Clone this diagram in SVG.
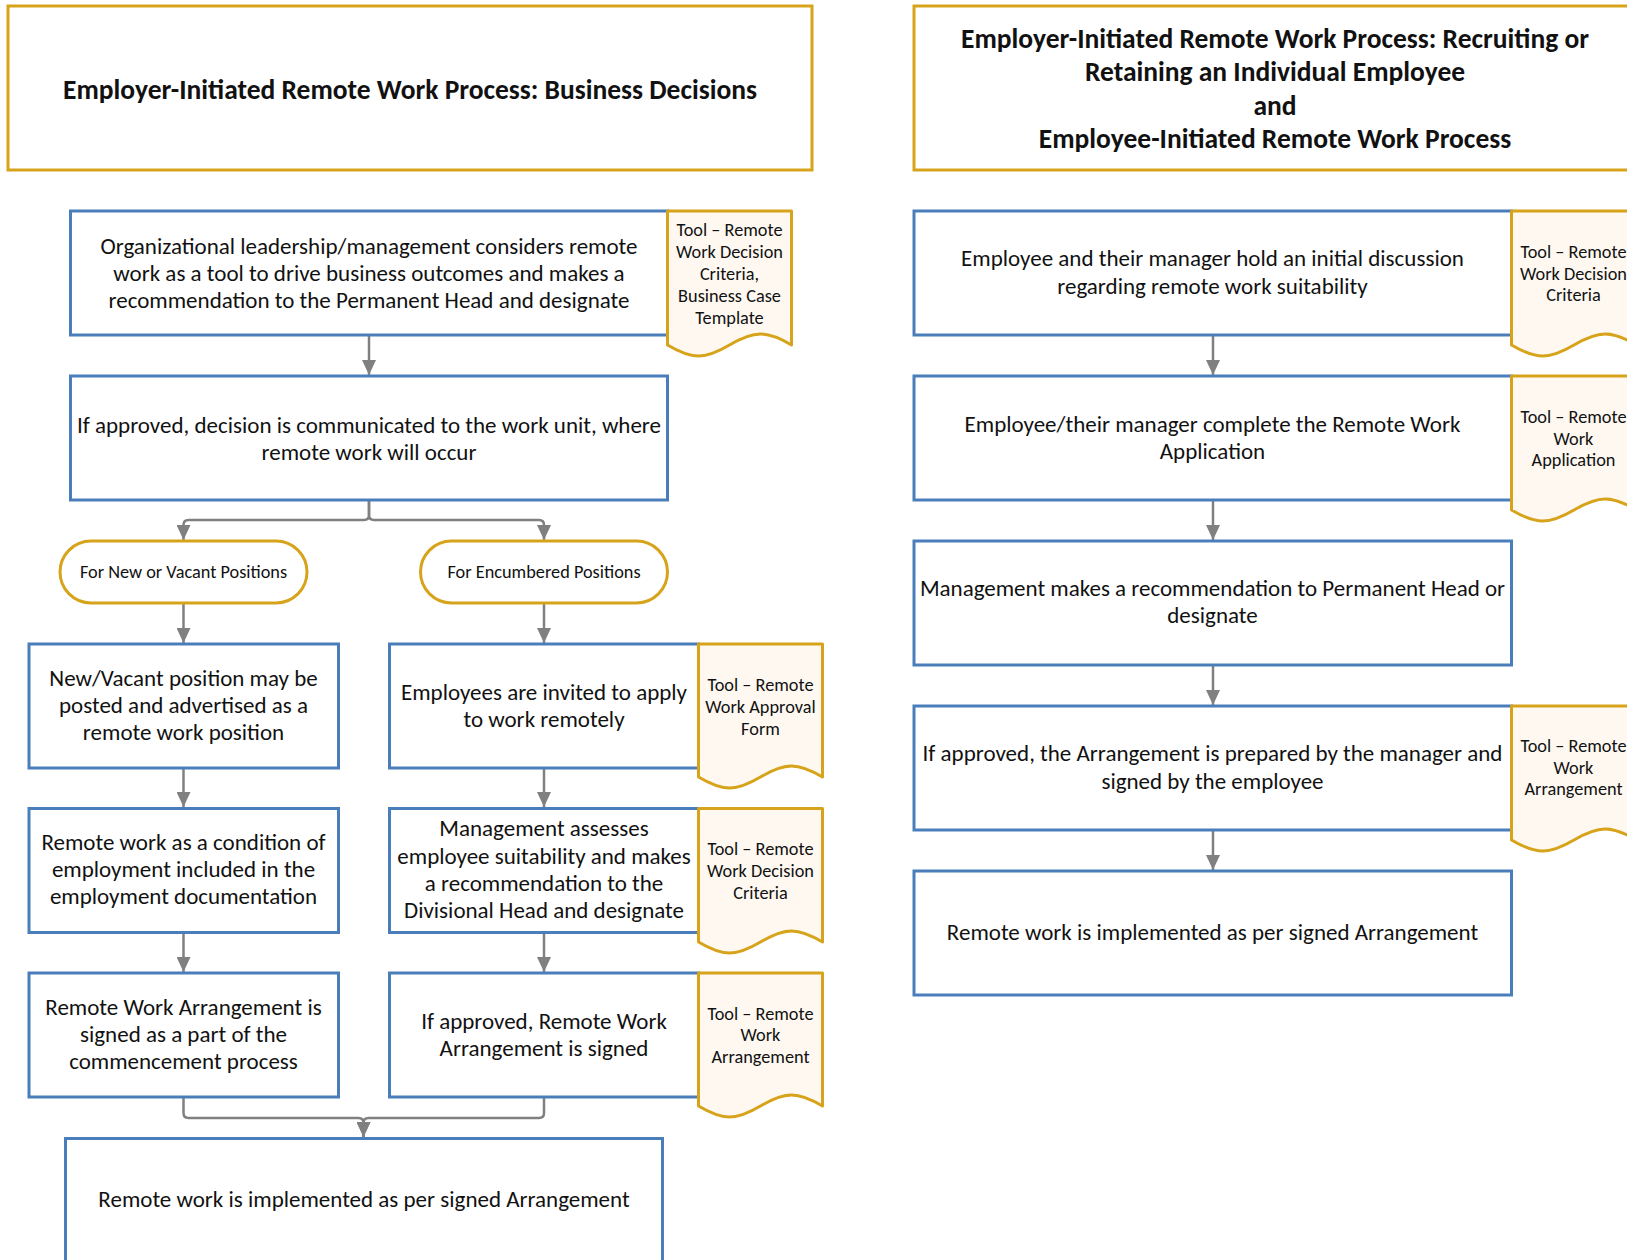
<svg xmlns="http://www.w3.org/2000/svg" width="1627" height="1260" viewBox="0 0 1627 1260">
<style>
  .bg{fill:#ffffff}
  .title{fill:#ffffff;stroke:#D6A31A;stroke-width:3}
  .box{fill:#ffffff;stroke:#4A7EBB;stroke-width:3}
  .pill{fill:#ffffff;stroke:#D6A31A;stroke-width:3}
  .doc{fill:#FEF8F1;stroke:#D6A31A;stroke-width:3;stroke-linejoin:round}
  .conn{fill:none;stroke:#808080;stroke-width:2.5}
  text{font-family:"Carlito","Liberation Sans",Arial,sans-serif;fill:#111111;text-anchor:middle}
  .tt{font-size:27.5px;font-weight:bold}
  .bt{font-size:23px}
  .dt{font-size:18.3px}
  .pt{font-size:18.3px}
</style>
<defs>
  <marker id="arr" markerUnits="userSpaceOnUse" markerWidth="16" markerHeight="14" refX="15" refY="7" orient="auto">
    <path d="M0,0 L15,7 L0,14 z" fill="#808080"/>
  </marker>
</defs>
<rect class="bg" x="0" y="0" width="1627" height="1260"/>

<!-- Titles -->
<g id="title-left">
  <rect class="title" x="8" y="6" width="804" height="164"/>
  <text class="tt" x="410" y="98.5">Employer-Initiated Remote Work Process: Business Decisions</text>
</g>
<g id="title-right">
  <rect class="title" x="914" y="6" width="730" height="164"/>
  <text class="tt" x="1275" y="47.5">Employer-Initiated Remote Work Process: Recruiting or</text>
  <text class="tt" x="1275" y="81">Retaining an Individual Employee</text>
  <text class="tt" x="1275" y="114.5">and</text>
  <text class="tt" x="1275" y="147.5">Employee-Initiated Remote Work Process</text>
</g>

<!-- Connectors -->
<g id="connectors">
  <line class="conn" x1="369" y1="335" x2="369" y2="375" marker-end="url(#arr)"/>
  <path class="conn" d="M369,500 V515 Q369,520 364,520 H188.5 Q183.5,520 183.5,525 V540" marker-end="url(#arr)"/>
  <path class="conn" d="M369,500 V515 Q369,520 374,520 H539 Q544,520 544,525 V540" marker-end="url(#arr)"/>
  <line class="conn" x1="183.5" y1="603" x2="183.5" y2="643" marker-end="url(#arr)"/>
  <line class="conn" x1="544" y1="603" x2="544" y2="643" marker-end="url(#arr)"/>
  <line class="conn" x1="183.5" y1="768" x2="183.5" y2="807" marker-end="url(#arr)"/>
  <line class="conn" x1="544" y1="768" x2="544" y2="807" marker-end="url(#arr)"/>
  <line class="conn" x1="183.5" y1="933" x2="183.5" y2="972" marker-end="url(#arr)"/>
  <line class="conn" x1="544" y1="933" x2="544" y2="972" marker-end="url(#arr)"/>
  <path class="conn" d="M183.5,1097 V1113 Q183.5,1118 188.5,1118 H358.5 Q363.5,1118 363.5,1123 V1137" marker-end="url(#arr)"/>
  <path class="conn" d="M544,1097 V1113 Q544,1118 539,1118 H368.5 Q363.5,1118 363.5,1123 V1137" marker-end="url(#arr)"/>
  <line class="conn" x1="1213" y1="335" x2="1213" y2="375" marker-end="url(#arr)"/>
  <line class="conn" x1="1213" y1="500" x2="1213" y2="540" marker-end="url(#arr)"/>
  <line class="conn" x1="1213" y1="665" x2="1213" y2="705" marker-end="url(#arr)"/>
  <line class="conn" x1="1213" y1="830" x2="1213" y2="870" marker-end="url(#arr)"/>
</g>

<!-- Left column -->
<g id="step-l1">
  <rect class="box" x="70.5" y="211" width="597" height="124"/>
  <text class="bt" x="369" y="254">Organizational leadership/management considers remote</text>
  <text class="bt" x="369" y="281">work as a tool to drive business outcomes and makes a</text>
  <text class="bt" x="369" y="308">recommendation to the Permanent Head and designate</text>
</g>
<g id="tool-l1">
  <path class="doc" d="M667.5,211 H791.5 V345 C766.7,330.3 754.3,330.3 729.5,345 C704.7,359.7 692.3,359.7 667.5,345 Z"/>
  <text class="dt" x="729.5" y="236.3">Tool – Remote</text>
  <text class="dt" x="729.5" y="258.1">Work Decision</text>
  <text class="dt" x="729.5" y="279.9">Criteria,</text>
  <text class="dt" x="729.5" y="301.7">Business Case</text>
  <text class="dt" x="729.5" y="323.5">Template</text>
</g>
<g id="step-l2">
  <rect class="box" x="70.5" y="376" width="597" height="124"/>
  <text class="bt" x="369" y="432.5">If approved, decision is communicated to the work unit, where</text>
  <text class="bt" x="369" y="459.5">remote work will occur</text>
</g>
<g id="branch-new">
  <rect class="pill" x="60" y="541" width="247" height="62" rx="31" ry="31"/>
  <text class="pt" x="183.5" y="578.3">For New or Vacant Positions</text>
</g>
<g id="branch-encumbered">
  <rect class="pill" x="420.5" y="541" width="247" height="62" rx="31" ry="31"/>
  <text class="pt" x="544" y="578.3">For Encumbered Positions</text>
</g>
<g id="step-l3a">
  <rect class="box" x="29" y="644" width="309.5" height="124"/>
  <text class="bt" x="183.5" y="686.3">New/Vacant position may be</text>
  <text class="bt" x="183.5" y="713.3">posted and advertised as a</text>
  <text class="bt" x="183.5" y="740.3">remote work position</text>
</g>
<g id="step-l3b">
  <rect class="box" x="389.5" y="644" width="309" height="124"/>
  <text class="bt" x="544" y="700.3">Employees are invited to apply</text>
  <text class="bt" x="544" y="727.3">to work remotely</text>
</g>
<g id="tool-l3">
  <path class="doc" d="M698.5,644 H822.5 V777 C797.7,762.3 785.3,762.3 760.5,777 C735.7,791.7 723.3,791.7 698.5,777 Z"/>
  <text class="dt" x="760.5" y="691.3">Tool – Remote</text>
  <text class="dt" x="760.5" y="713">Work Approval</text>
  <text class="dt" x="760.5" y="734.7">Form</text>
</g>
<g id="step-l4a">
  <rect class="box" x="29" y="808.5" width="309.5" height="124"/>
  <text class="bt" x="183.5" y="850.3">Remote work as a condition of</text>
  <text class="bt" x="183.5" y="877.3">employment included in the</text>
  <text class="bt" x="183.5" y="904.3">employment documentation</text>
</g>
<g id="step-l4b">
  <rect class="box" x="389.5" y="808.5" width="309" height="124"/>
  <text class="bt" x="544" y="836.3">Management assesses</text>
  <text class="bt" x="544" y="863.6">employee suitability and makes</text>
  <text class="bt" x="544" y="890.9">a recommendation to the</text>
  <text class="bt" x="544" y="918.3">Divisional Head and designate</text>
</g>
<g id="tool-l4">
  <path class="doc" d="M698.5,808.5 H822.5 V942 C797.7,927.3 785.3,927.3 760.5,942 C735.7,956.7 723.3,956.7 698.5,942 Z"/>
  <text class="dt" x="760.5" y="855.3">Tool – Remote</text>
  <text class="dt" x="760.5" y="877">Work Decision</text>
  <text class="dt" x="760.5" y="898.7">Criteria</text>
</g>
<g id="step-l5a">
  <rect class="box" x="29" y="973" width="309.5" height="124"/>
  <text class="bt" x="183.5" y="1014.8">Remote Work Arrangement is</text>
  <text class="bt" x="183.5" y="1042.3">signed as a part of the</text>
  <text class="bt" x="183.5" y="1069.3">commencement process</text>
</g>
<g id="step-l5b">
  <rect class="box" x="389.5" y="973" width="309" height="124"/>
  <text class="bt" x="544" y="1028.8">If approved, Remote Work</text>
  <text class="bt" x="544" y="1055.8">Arrangement is signed</text>
</g>
<g id="tool-l5">
  <path class="doc" d="M698.5,973 H822.5 V1106 C797.7,1091.3 785.3,1091.3 760.5,1106 C735.7,1120.7 723.3,1120.7 698.5,1106 Z"/>
  <text class="dt" x="760.5" y="1019.6">Tool – Remote</text>
  <text class="dt" x="760.5" y="1041.3">Work</text>
  <text class="dt" x="760.5" y="1063">Arrangement</text>
</g>
<g id="step-l6">
  <rect class="box" x="65.5" y="1138.5" width="597" height="124"/>
  <text class="bt" x="364" y="1207.3">Remote work is implemented as per signed Arrangement</text>
</g>

<!-- Right column -->
<g id="step-r1">
  <rect class="box" x="914" y="211" width="597.5" height="124"/>
  <text class="bt" x="1212.5" y="266.3">Employee and their manager hold an initial discussion</text>
  <text class="bt" x="1212.5" y="293.6">regarding remote work suitability</text>
</g>
<g id="tool-r1">
  <path class="doc" d="M1511.5,211 H1636.5 V345 C1611.5,330.3 1599,330.3 1574,345 C1549,359.7 1536.5,359.7 1511.5,345 Z"/>
  <text class="dt" x="1573.5" y="258">Tool – Remote</text>
  <text class="dt" x="1573.5" y="279.6">Work Decision</text>
  <text class="dt" x="1573.5" y="301.3">Criteria</text>
</g>
<g id="step-r2">
  <rect class="box" x="914" y="376" width="597.5" height="124"/>
  <text class="bt" x="1212.5" y="432">Employee/their manager complete the Remote Work</text>
  <text class="bt" x="1212.5" y="459.3">Application</text>
</g>
<g id="tool-r2">
  <path class="doc" d="M1511.5,376 H1636.5 V510 C1611.5,495.3 1599,495.3 1574,510 C1549,524.7 1536.5,524.7 1511.5,510 Z"/>
  <text class="dt" x="1573.5" y="423">Tool – Remote</text>
  <text class="dt" x="1573.5" y="444.6">Work</text>
  <text class="dt" x="1573.5" y="466.3">Application</text>
</g>
<g id="step-r3">
  <rect class="box" x="914" y="541" width="597.5" height="124"/>
  <text class="bt" x="1212.5" y="596.3">Management makes a recommendation to Permanent Head or</text>
  <text class="bt" x="1212.5" y="623.3">designate</text>
</g>
<g id="step-r4">
  <rect class="box" x="914" y="706" width="597.5" height="124"/>
  <text class="bt" x="1212.5" y="761.3">If approved, the Arrangement is prepared by the manager and</text>
  <text class="bt" x="1212.5" y="788.6">signed by the employee</text>
</g>
<g id="tool-r4">
  <path class="doc" d="M1511.5,706 H1636.5 V840 C1611.5,825.3 1599,825.3 1574,840 C1549,854.7 1536.5,854.7 1511.5,840 Z"/>
  <text class="dt" x="1573.5" y="752">Tool – Remote</text>
  <text class="dt" x="1573.5" y="773.6">Work</text>
  <text class="dt" x="1573.5" y="795.3">Arrangement</text>
</g>
<g id="step-r5">
  <rect class="box" x="914" y="871" width="597.5" height="124"/>
  <text class="bt" x="1212.5" y="939.6">Remote work is implemented as per signed Arrangement</text>
</g>
</svg>
